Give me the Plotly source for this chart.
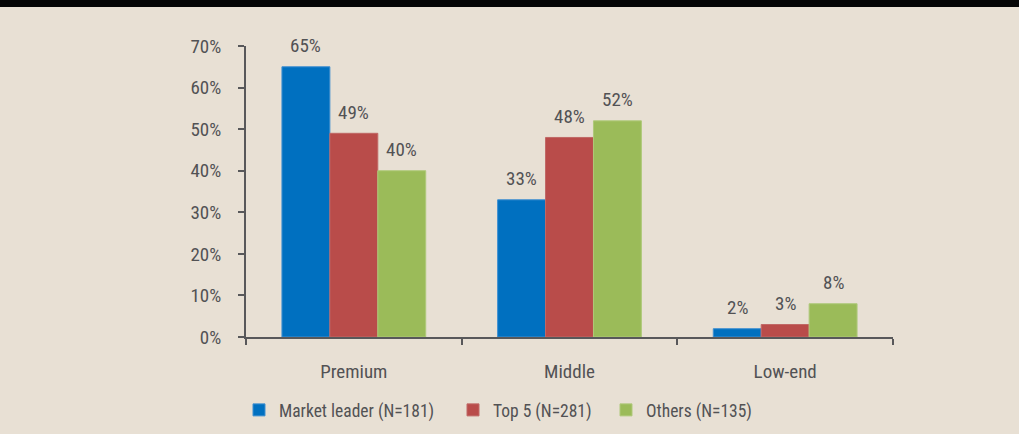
import plotly.graph_objects as go

categories = ["Premium", "Middle", "Low-end"]
series_names = ["Market leader (N=181)", "Top 5 (N=281)", "Others (N=135)"]
market_leader = [65, 33, 2]
top5 = [49, 48, 3]
others = [40, 52, 8]
y_ticks = [0, 10, 20, 30, 40, 50, 60, 70]
y_tick_labels = [f"{v}%" for v in y_ticks]

colors = ["#0070C0", "#B94C4A", "#9BBB59"]
line_colors = ["#3F8FD0", "#C06866", "#AFC97A"]
FONT = "Roboto Condensed, Liberation Sans, sans-serif"
FS = 19
FS_LEG = 17.5
TXT = "#525254"
AX = "#58585A"
BG = "#E8E0D4"

W, H = 1019, 434
L, R, T, B = 246, 126, 46, 97
plot_w = W - L - R
plot_h = H - T - B

fig = go.Figure()
all_series = [market_leader, top5, others]
legend_ids = ["legend", "legend2", "legend3"]
legend_left_px = [239, 453, 606]
for i, (name, vals) in enumerate(zip(series_names, all_series)):
    fig.add_trace(go.Bar(
        x=categories, y=vals, name=name, legend=legend_ids[i],
        marker=dict(color=colors[i], line=dict(color=line_colors[i], width=1)),
    ))

# data labels
bar_px = plot_w / 3 * (1 - 1 / 3) / 3
for i, vals in enumerate(all_series):
    for c, v in zip(categories, vals):
        fig.add_annotation(
            x=c, y=v, text=f"{v}%", showarrow=False,
            xref="x", yref="y", xanchor="center", yanchor="middle",
            xshift=(i - 1) * bar_px, yshift=21,
            font=dict(family=FONT, size=FS, color=TXT),
        )

# black band at top
fig.add_shape(type="rect", xref="paper", yref="paper",
              x0=-L / plot_w - 0.01, x1=1 + R / plot_w + 0.01,
              y0=1 + (T - 7) / plot_h, y1=1 + T / plot_h + 0.01,
              fillcolor="#050505", line=dict(width=0), layer="above")

legend_common = dict(orientation="h", xanchor="left",
                     y=-(410 - T - plot_h) / plot_h, yanchor="middle",
                     font=dict(family=FONT, size=FS_LEG, color=TXT),
                     bgcolor="rgba(0,0,0,0)", itemwidth=30)

fig.update_layout(
    width=W, height=H,
    margin=dict(l=L, r=R, t=T, b=B, autoexpand=False),
    paper_bgcolor=BG, plot_bgcolor=BG,
    barmode="group", bargap=1 / 3, bargroupgap=0,
    font=dict(family=FONT, size=FS, color=TXT),
    showlegend=True,
    legend=dict(x=(legend_left_px[0] - L) / plot_w, **legend_common),
    legend2=dict(x=(legend_left_px[1] - L) / plot_w, **legend_common),
    legend3=dict(x=(legend_left_px[2] - L) / plot_w, **legend_common),
    xaxis=dict(type="category", tickson="boundaries", ticks="outside", ticklen=6,
               tickwidth=2, tickcolor=AX, showline=True, linecolor=AX,
               linewidth=2, showgrid=False, ticklabelstandoff=16,
               tickfont=dict(family=FONT, size=FS, color=TXT)),
    yaxis=dict(range=[0, 70], tickvals=y_ticks, ticktext=y_tick_labels,
               ticks="outside", ticklen=6, tickwidth=2, tickcolor=AX,
               showline=True, linecolor=AX, linewidth=2, showgrid=False,
               zeroline=False, ticklabelstandoff=13,
               tickfont=dict(family=FONT, size=FS, color=TXT)),
)

fig.write_html("out.html", post_script="document.body.style.margin='0';",
               config={"displayModeBar": False})
